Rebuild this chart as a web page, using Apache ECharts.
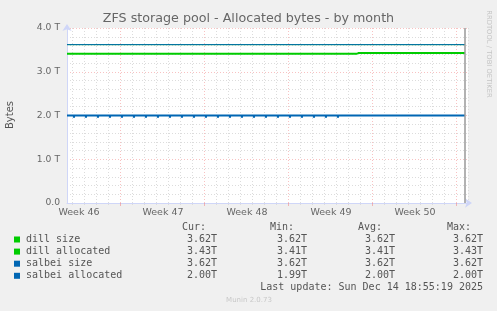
<!DOCTYPE html>
<html><head><meta charset="utf-8">
<script src="https://cdn.jsdelivr.net/npm/echarts@6/dist/echarts.min.js"></script>
<style>html,body{margin:0;padding:0;background:#F0F0F0}#c{width:497px;height:311px}</style>
</head><body><div id="c"></div>
<script>
// ---- data (x in days since the graph's left edge, ~Wed Nov 12 2025 14:00) ----
const chartTitle = 'ZFS storage pool - Allocated bytes - by month';
const xMax = 33.42;
const weekStarts = [4.417, 11.417, 18.417, 25.417, 32.417];
const weekLabelPos = [1, 8, 15, 22, 29];
const weekLabels = ['Week 46', 'Week 47', 'Week 48', 'Week 49', 'Week 50'];
const yTicks = [0, 1, 2, 3, 4];
const yTickLabels = ['0.0', '1.0 T', '2.0 T', '3.0 T', '4.0 T'];

const dillSizeX = [0, 33.17];
const dillSizeY = [3.62, 3.62];
// dill allocated: piecewise-constant runs [start, end, value]
const dillAllocRuns = [[0, 24.22, 3.41], [24.22, 33.17, 3.43]];
const salbeiSizeX = [0, 33.17];
const salbeiSizeY = [3.62, 3.62];
const salbeiAllocX = [0, 33.17];
const salbeiAllocY = [2.00, 2.00];
const salbeiDipDays = [0.58, 1.58, 2.58, 3.58, 4.58, 5.58, 6.58, 7.58, 8.58, 9.58, 10.58, 11.58,
  12.58, 13.58, 14.58, 15.58, 16.58, 17.58, 18.58, 19.58, 20.58, 21.58, 22.58];
const salbeiDipValue = 1.97;
const dataEnd = 33.17;

const legendNames = ['dill size', 'dill allocated', 'salbei size', 'salbei allocated'];
const legendColors = ['#00CC00', '#00CC00', '#0066B3', '#0066B3'];
const curVals = ['3.62T', '3.43T', '3.62T', '2.00T'];
const minVals = ['3.62T', '3.41T', '3.62T', '1.99T'];
const avgVals = ['3.62T', '3.41T', '3.62T', '2.00T'];
const maxVals = ['3.62T', '3.43T', '3.62T', '2.00T'];
const lastUpdate = 'Last update: Sun Dec 14 18:55:19 2025';
const version = 'Munin 2.0.73';

// ---- build ----
function pairs(xs, ys) { return xs.map((x, i) => [x, ys[i]]); }
const dillAllocData = [];
dillAllocRuns.forEach((r, i) => {
  if (i > 0) dillAllocData.push([r[0], null]);
  dillAllocData.push([r[0], r[2]], [r[1], r[2]]);
});
const hw = 0.09;
const salbeiDipData = [];
salbeiDipDays.forEach((d, i) => {
  if (i > 0) salbeiDipData.push([d - 0.5, null]);
  salbeiDipData.push([d - hw, salbeiDipValue], [d + hw, salbeiDipValue]);
});

const dayLines = [];
for (let w = 0; w < weekStarts.length; w++) {
  for (let k = -6; k <= 6; k++) {
    const v = +(weekStarts[w] + k).toFixed(3);
    if (k !== 0 && v > 0 && v < xMax && weekStarts.indexOf(v) < 0 && dayLines.indexOf(v) < 0) dayLines.push(v);
  }
}

const FONT = 'DejaVu Sans';
const MONO = 'DejaVu Sans Mono';
const majorGrid = { color: 'rgba(240,120,120,0.45)', width: 1, type: [1, 2] };
const minorGrid = { color: '#dcdcdc', width: 1, type: [1, 2] };

const chart = echarts.init(document.getElementById('c'), null, { renderer: 'canvas' });

const graphics = [];
graphics.push({ type: 'text', x: 10.5, y: 115, rotation: Math.PI / 2,
  style: { text: 'Bytes', font: '10px ' + FONT, fill: '#555', align: 'center', verticalAlign: 'middle' } });
graphics.push({ type: 'text', x: 488.5, y: 54, rotation: -Math.PI / 2,
  style: { text: 'RRDTOOL / TOBI OETIKER', font: '6.8px ' + FONT, fill: '#c4c4c4', align: 'center', verticalAlign: 'middle' } });
const hdrY = 227, rowY0 = 239.5, rowDy = 12.1;
[['Cur:', 182], ['Min:', 270], ['Avg:', 358], ['Max:', 447]].forEach(h => {
  graphics.push({ type: 'text', x: h[1], y: hdrY, style: { text: h[0], font: '10px ' + MONO, fill: '#555', align: 'left', verticalAlign: 'middle' } });
});
legendNames.forEach((n, i) => {
  const y = rowY0 + i * rowDy;
  graphics.push({ type: 'rect', shape: { x: 14, y: y - 3, width: 6, height: 6 }, style: { fill: legendColors[i] } });
  graphics.push({ type: 'text', x: 26, y: y, style: { text: n, font: '10px ' + MONO, fill: '#555', align: 'left', verticalAlign: 'middle' } });
  [[curVals, 217], [minVals, 307], [avgVals, 395], [maxVals, 483]].forEach(c => {
    graphics.push({ type: 'text', x: c[1], y: y, style: { text: c[0][i], font: '10px ' + MONO, fill: '#555', align: 'right', verticalAlign: 'middle' } });
  });
});
graphics.push({ type: 'text', x: 483, y: rowY0 + 4 * rowDy, style: { text: lastUpdate, font: '10px ' + MONO, fill: '#555', align: 'right', verticalAlign: 'middle' } });
graphics.push({ type: 'text', x: 249, y: 300, style: { text: version, font: '7px ' + FONT, fill: '#c8c8c8', align: 'center', verticalAlign: 'middle' } });

function line(name, data, color, width) {
  return { name, type: 'line', data, showSymbol: false, symbol: 'none', animation: false, silent: true,
    connectNulls: false, lineStyle: { color, width, cap: 'butt' }, xAxisIndex: 0, yAxisIndex: 0 };
}

const series = [
  line('dill size', pairs(dillSizeX, dillSizeY), legendColors[0], 1),
  line('dill allocated', dillAllocData, legendColors[1], 2),
  line('salbei size', pairs(salbeiSizeX, salbeiSizeY), legendColors[2], 1),
  line('salbei allocated', pairs(salbeiAllocX, salbeiAllocY), legendColors[3], 2),
  line('salbei allocated', salbeiDipData, legendColors[3], 2)
];
series[3].markLine = { silent: true, symbol: 'none', label: { show: false },
  lineStyle: { color: '#999', width: 1.5, type: 'solid' }, data: [{ xAxis: dataEnd }] };

chart.setOption({
  backgroundColor: '#F0F0F0',
  animation: false,
  title: { text: chartTitle, left: 'center', top: 12, padding: 0,
    textStyle: { fontSize: 12.7, fontWeight: 'normal', color: '#666', fontFamily: FONT } },
  grid: { left: 67, top: 28, width: 401, height: 175, backgroundColor: '#FFFFFF', show: true, borderWidth: 0, containLabel: false },
  xAxis: [
    { type: 'value', min: 0, max: xMax, position: 'bottom',
      axisLine: { show: true, lineStyle: { color: '#CFD6F8', width: 1 }, symbol: ['none', 'arrow'], symbolSize: [7, 7], symbolOffset: [0, 4] },
      axisTick: { show: true, customValues: weekStarts, length: 3, lineStyle: { color: 'rgba(240,120,120,0.5)' } },
      axisLabel: { customValues: weekLabelPos, formatter: v => weekLabels[weekLabelPos.indexOf(v)] || '',
        color: '#666', fontSize: 9.5, fontFamily: FONT, margin: 5 },
      splitLine: { show: true, lineStyle: majorGrid }, z: 3 },
    { type: 'value', min: 0, max: xMax, position: 'bottom',
      axisLine: { show: false },
      axisTick: { show: true, customValues: dayLines, length: 2, lineStyle: { color: '#dcdcdc' } },
      axisLabel: { show: false },
      splitLine: { show: true, lineStyle: minorGrid }, z: 1 }
  ],
  yAxis: [
    { type: 'value', min: 0, max: 4, interval: 1,
      axisLine: { show: true, lineStyle: { color: '#CFD6F8', width: 1 }, symbol: ['none', 'arrow'], symbolSize: [7, 7], symbolOffset: [0, 4] },
      axisTick: { show: false },
      axisLabel: { formatter: v => yTickLabels[yTicks.indexOf(v)], color: '#666', fontSize: 9.2, fontFamily: FONT, margin: 7 },
      splitLine: { show: true, lineStyle: majorGrid },
      minorTick: { show: false, splitNumber: 5 },
      minorSplitLine: { show: true, lineStyle: minorGrid } }
  ],
  graphic: graphics,
  series
});
</script></body></html>
